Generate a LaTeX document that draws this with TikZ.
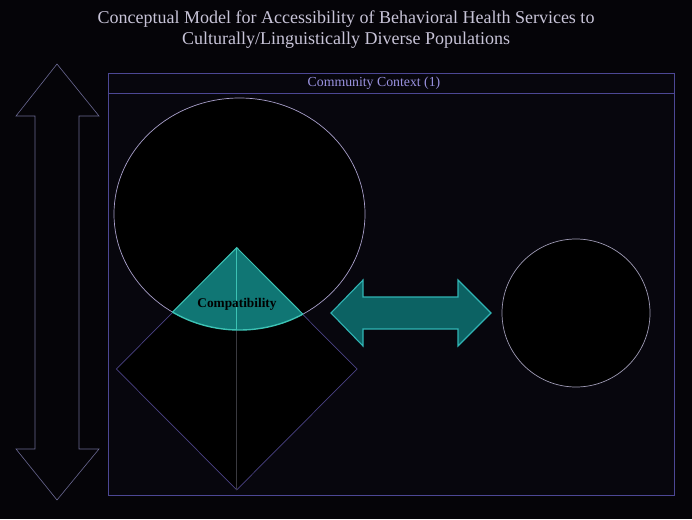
\documentclass[tikz,border=0pt]{standalone}
\usepackage{fontspec}
\setmainfont{Liberation Serif}
\usetikzlibrary{shapes.geometric}
\definecolor{bgc}{HTML}{050408}
\definecolor{boxbg}{HTML}{07060D}
\definecolor{titlec}{HTML}{C8C4D8}
\definecolor{ctxc}{HTML}{9A92E0}
\definecolor{boxline}{HTML}{4C4794}
\definecolor{diaLine}{HTML}{4A4285}
\definecolor{ellLine}{HTML}{A89FCA}
\definecolor{circLine}{HTML}{9E9AB4}
\definecolor{varrow}{HTML}{6A6892}
\definecolor{tealfill}{HTML}{107674}
\definecolor{tealedge}{HTML}{3CC2B4}
\definecolor{harrowfill}{HTML}{0C6263}
\definecolor{harrowedge}{HTML}{30B4B4}
\definecolor{midline}{HTML}{3A3A40}
\tikzset{
  titletext/.style={text=titlec, font=\fontsize{18}{21}\selectfont, inner sep=0},
  ctxtext/.style={text=ctxc, font=\fontsize{13.8}{16}\selectfont, inner sep=0},
  compat/.style={text=black, font=\bfseries\fontsize{13.3}{15}\selectfont, inner sep=0},
  thinline/.style={line width=0.7pt},
}
\begin{document}
\begin{tikzpicture}[x=1pt,y=-1pt]
\fill[bgc] (0,0) rectangle (692,519);
\useasboundingbox (0,0) rectangle (692,519);
% title
\node[titletext] (t1) at (346,19) {Conceptual Model for Accessibility of Behavioral Health Services to};
\node[titletext] (t2) at (346,40) {Culturally/Linguistically Diverse Populations};
% community context box
\node[rectangle, draw=boxline, fill=boxbg, thinline, minimum width=566pt, minimum height=422pt, inner sep=0] (ctx) at (391,284) {};
\draw[boxline, thinline] (108,93.5) -- (674,93.5);
\node[ctxtext] (ctxlabel) at (374,83) {Community Context (1)};
% vertical double arrow
\draw[varrow, line width=0.6pt, line join=miter] (57,64) -- (99,116) -- (79,116) -- (79,449) -- (99,449) -- (57,500) -- (16,449) -- (35,449) -- (35,116) -- (16,116) -- cycle;
% big ellipse
\node[ellipse, draw=ellLine, fill=black, thinline, minimum width=251pt, minimum height=232pt, inner sep=0] (ell) at (239.5,214) {};
% diamond
\node[diamond, draw=diaLine, fill=black, thinline, minimum width=241pt, minimum height=242pt, inner sep=0] (dia) at (236.7,369) {};
\draw[midline, line width=0.8pt] (dia.north) -- (dia.south);
% compatibility overlap
\begin{scope}
  \clip (239.5,214) ellipse [x radius=125.5, y radius=116];
  \fill[tealfill] (dia.north) -- (dia.east) -- (dia.south) -- (dia.west) -- cycle;
  \draw[tealedge, line width=1pt] (dia.west) -- (dia.north) -- (dia.east);
  \draw[tealedge, line width=1.2pt] (dia.north) -- (dia.south);
\end{scope}
\begin{scope}
  \clip (dia.north) -- (dia.east) -- (dia.south) -- (dia.west) -- cycle;
  \draw[tealedge, line width=1.4pt] (239.5,214) ellipse [x radius=125.5, y radius=116];
\end{scope}
\node[compat] (comp) at (237,304) {Compatibility};
% horizontal double arrow
\draw[harrowedge, fill=harrowfill, line width=1.1pt, line join=miter] (331,313) -- (363,280) -- (363,297) -- (458,297) -- (458,280) -- (491,313) -- (458,346) -- (458,329) -- (363,329) -- (363,346) -- cycle;
\coordinate (harrowL) at (331,313);
\coordinate (harrowR) at (491,313);
% right circle
\node[circle, draw=circLine, fill=black, thinline, minimum size=148pt, inner sep=0] (circ) at (576,313) {};
\end{tikzpicture}
\end{document}
